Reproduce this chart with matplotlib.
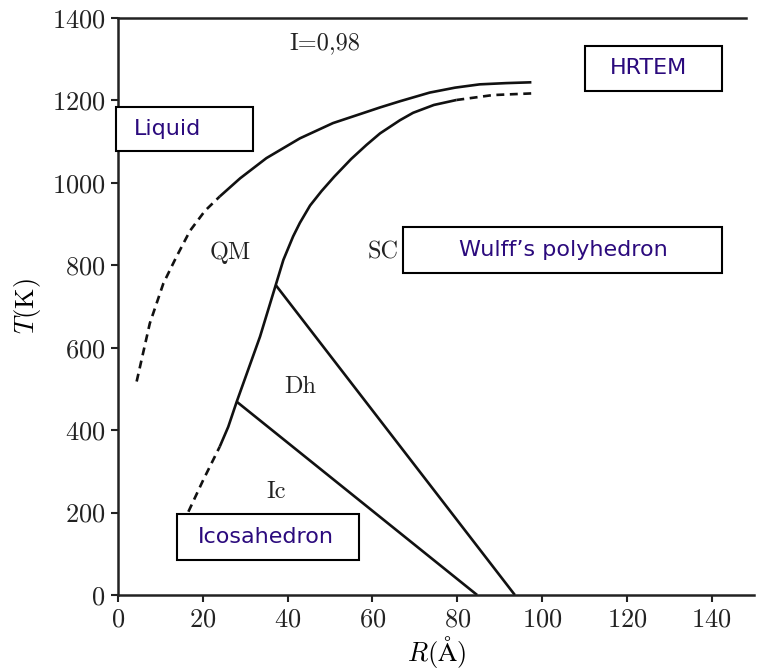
import matplotlib
matplotlib.use("Agg")
import matplotlib.pyplot as plt
from matplotlib.patches import Rectangle

# ---- data ----
# upper boundary (liquid / solid), dashed part then solid part
liq_dash_R = [4.4, 7.5, 10.7, 13.8, 17.0, 20.5, 24.0]
liq_dash_T = [518, 659, 756, 821, 884, 932, 967]
liq_solid_R = [24.0, 28.8, 35.0, 42.9, 50.7, 58.6, 61.8, 66.5, 73.5, 79.5, 85.3, 91.5, 97.5]
liq_solid_T = [967, 1011, 1060, 1108, 1145, 1172, 1183, 1198, 1219, 1231, 1239, 1242, 1244]

# lower boundary (Ic/Dh/QM on the left, SC on the right)
low_dash1_R = [16.6, 20.1, 24.0]
low_dash1_T = [202, 279, 360]
low_solid_R = [24.0, 26.0, 28.0, 33.5, 37.2, 39.0, 41.3, 42.9, 45.3, 48.0, 51.0, 55.0, 58.6,
               61.8, 66.5, 69.6, 74.5, 79.8]
low_solid_T = [360, 408, 469, 627, 752, 813, 870, 903, 945, 980, 1015, 1058, 1092,
               1120, 1152, 1170, 1189, 1201]
low_dash2_R = [79.8, 88.4, 97.5]
low_dash2_T = [1201, 1213, 1217]

# straight phase boundaries
ic_dh_R = [28.0, 84.7]
ic_dh_T = [469, 0]
dh_sc_R = [37.2, 93.6]
dh_sc_T = [752, 0]

# region labels (text, R, T)
region_labels = ["I=0,98", "QM", "SC", "Dh", "Ic"]
region_R = [48.8, 26.4, 62.5, 42.9, 37.4]
region_T = [1339, 831, 831, 505, 251]

x_ticks = [0, 20, 40, 60, 80, 100, 120, 140]
y_ticks = [0, 200, 400, 600, 800, 1000, 1200, 1400]

# overlay boxes: label, box pixel rect (x0, y0, x1, y1), text centre x (pixels)
box_labels = ["Liquid", "HRTEM", "Wulff\u2019s polyhedron", "Icosahedron"]
box_rects = [(116, 107, 253, 151), (585, 46, 722, 91), (403, 227, 722, 273), (177, 514, 359, 560)]
box_text_x = [168, 648, 563, 266]

# ---- figure ----
plt.rcParams['font.family'] = ['cmr10', 'DejaVu Serif']
plt.rcParams['mathtext.fontset'] = 'cm'
plt.rcParams['axes.formatter.use_mathtext'] = True

W, H = 759, 671
fig = plt.figure(figsize=(W / 100, H / 100), dpi=100)
ax = fig.add_axes([118 / W, 1 - 595 / H, (754 - 118) / W, (595 - 18) / H])

lw = 1.9
dash = (0, (3.0, 2.1))
kw = dict(color='#111111', lw=lw, solid_joinstyle='round', solid_capstyle='butt')
ax.plot(liq_dash_R, liq_dash_T, linestyle=dash, **kw)
ax.plot(liq_solid_R, liq_solid_T, **kw)
ax.plot(low_dash1_R, low_dash1_T, linestyle=dash, **kw)
ax.plot(low_solid_R, low_solid_T, **kw)
ax.plot(low_dash2_R, low_dash2_T, linestyle=dash, **kw)
ax.plot(ic_dh_R, ic_dh_T, **kw)
ax.plot(dh_sc_R, dh_sc_T, **kw)

for t, r, T in zip(region_labels, region_R, region_T):
    ax.text(r, T, t, ha='center', va='center', fontsize=17.5, color='#222222')

ax.set_xlim(0, 150)
ax.set_ylim(0, 1400)
ax.set_xticks(x_ticks)
ax.set_yticks(y_ticks)
ax.tick_params(direction='out', length=5, width=1.5, labelsize=19, colors='#222222', pad=4)
ax.spines['right'].set_visible(False)
for s in ['left', 'bottom', 'top']:
    ax.spines[s].set_linewidth(1.8)
    ax.spines[s].set_color('#222222')
ax.spines['top'].set_bounds(0, 148)

ax.set_xlabel(r'$R(\mathrm{\AA})$', fontsize=19, labelpad=2)
ax.set_ylabel(r'$T\mathrm{(K)}$', fontsize=19, labelpad=6)

for lab, (x0, y0, x1, y1), tx in zip(box_labels, box_rects, box_text_x):
    rect = Rectangle((x0 / W, 1 - y1 / H), (x1 - x0) / W, (y1 - y0) / H,
                     transform=fig.transFigure, facecolor='white', edgecolor='black',
                     linewidth=1.5, zorder=10)
    fig.add_artist(rect)
    fig.text(tx / W, 1 - (y0 + y1) / 2 / H, lab, ha='center', va='center',
             fontsize=16, color='#2b0a7d', family='DejaVu Sans', zorder=11)

fig.savefig('out.png', dpi=100)
